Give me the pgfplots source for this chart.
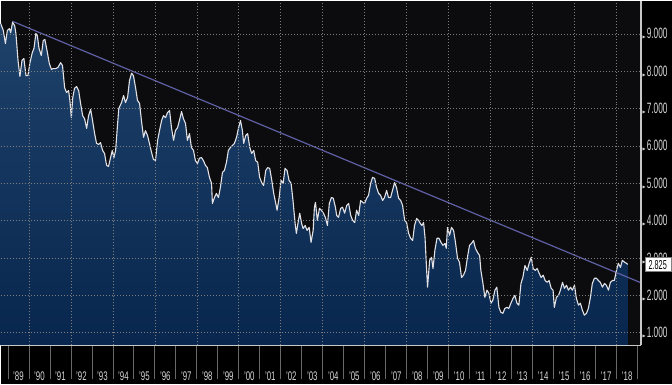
\documentclass[border=0pt]{standalone}
\usepackage{pgfplots}
\pgfplotsset{compat=1.18}
\usepackage{pgfplotstable}
\usepackage{graphicx}
\usepackage{fontspec}
\setmainfont{Liberation Sans}
\newfontfamily\symfont{DejaVu Sans}
\definecolor{bgplot}{RGB}{12,12,14}
\definecolor{gridc}{RGB}{125,125,125}
\definecolor{axc}{RGB}{200,200,200}
\definecolor{sepc}{RGB}{105,105,105}
\definecolor{trendc}{RGB}{95,95,165}
\definecolor{curvec}{RGB}{225,225,230}
\definecolor{filltop}{RGB}{30,66,106}
\definecolor{fillbot}{RGB}{8,38,78}
\definecolor{labc}{RGB}{215,215,215}
\newcommand{\ylab}[1]{{\symfont\fontsize{4}{4}\selectfont ▶}\hspace{1pt}\scalebox{0.55}[1]{\fontsize{15}{15}\selectfont #1}}
\newcommand{\xl}[1]{\scalebox{0.63}[1]{\fontsize{12.5}{12.5}\selectfont '#1}}

\pgfplotstableread{
year yld
1988.65 9.28
1988.78 9.09
1988.88 8.74
1988.97 9.09
1989.07 9.14
1989.13 9.03
1989.22 9.31
1989.32 9.22
1989.38 9.01
1989.48 8.29
1989.57 7.86
1989.67 8.29
1989.76 8.34
1989.86 7.88
1989.95 7.88
1990.05 8.23
1990.16 8.50
1990.24 8.61
1990.33 9.01
1990.40 8.95
1990.48 8.61
1990.59 8.42
1990.68 8.82
1990.76 8.85
1990.88 8.50
1990.97 8.21
1991.07 8.05
1991.16 8.07
1991.27 8.07
1991.38 8.10
1991.51 8.23
1991.60 8.15
1991.70 7.56
1991.79 7.43
1991.89 7.48
1991.95 7.22
1992.02 6.76
1992.09 7.30
1992.17 7.54
1992.27 7.59
1992.37 7.48
1992.46 7.14
1992.56 6.81
1992.65 6.73
1992.75 6.47
1992.84 6.81
1992.94 6.98
1993.03 6.68
1993.13 6.33
1993.22 6.07
1993.32 6.04
1993.41 6.09
1993.51 5.88
1993.60 5.80
1993.70 5.48
1993.79 5.45
1993.89 5.69
1993.97 5.88
1994.05 5.69
1994.13 5.88
1994.21 6.49
1994.28 7.00
1994.41 7.16
1994.51 7.35
1994.60 7.16
1994.70 7.30
1994.79 7.75
1994.89 7.95
1994.98 7.88
1995.08 7.56
1995.17 7.22
1995.27 7.14
1995.36 6.68
1995.46 6.23
1995.55 6.41
1995.65 6.28
1995.74 6.07
1995.84 5.83
1995.93 5.64
1996.03 5.61
1996.13 6.15
1996.22 6.41
1996.32 6.68
1996.41 6.81
1996.51 6.76
1996.60 6.89
1996.70 6.95
1996.79 6.49
1996.89 6.15
1996.98 6.41
1997.08 6.49
1997.17 6.68
1997.27 6.92
1997.36 6.73
1997.46 6.60
1997.55 6.15
1997.65 6.33
1997.74 5.96
1997.84 5.88
1997.93 5.61
1998.03 5.53
1998.12 5.67
1998.22 5.69
1998.31 5.61
1998.41 5.48
1998.50 5.42
1998.60 5.16
1998.70 5.00
1998.74 4.46
1998.84 4.62
1998.93 4.73
1999.03 4.62
1999.12 4.89
1999.22 5.29
1999.31 5.34
1999.41 5.56
1999.50 5.88
1999.60 5.96
1999.69 6.01
1999.79 6.07
1999.89 6.23
1999.98 6.47
2000.08 6.68
2000.17 6.41
2000.23 6.07
2000.33 6.28
2000.42 6.33
2000.52 5.96
2000.61 5.80
2000.71 5.88
2000.80 5.61
2000.90 5.56
2000.99 5.16
2001.09 5.02
2001.18 4.94
2001.28 5.34
2001.37 5.42
2001.47 5.40
2001.57 5.08
2001.66 4.73
2001.76 4.46
2001.82 4.28
2001.92 4.62
2002.01 5.08
2002.11 5.00
2002.20 5.40
2002.30 5.34
2002.39 5.08
2002.49 5.00
2002.58 4.54
2002.68 3.93
2002.74 3.66
2002.84 4.01
2002.90 4.20
2002.99 3.93
2003.06 3.79
2003.16 3.87
2003.25 3.74
2003.35 3.82
2003.44 3.42
2003.54 3.74
2003.60 4.36
2003.65 4.49
2003.74 4.01
2003.84 4.33
2003.93 4.28
2004.03 4.20
2004.12 4.09
2004.22 3.87
2004.31 4.46
2004.41 4.62
2004.50 4.60
2004.60 4.36
2004.66 4.14
2004.75 4.09
2004.85 4.33
2004.94 4.36
2005.04 4.20
2005.14 4.41
2005.23 4.46
2005.33 4.14
2005.42 4.01
2005.52 3.95
2005.61 4.28
2005.71 4.14
2005.80 4.54
2005.90 4.49
2005.99 4.46
2006.09 4.60
2006.18 4.68
2006.28 5.00
2006.37 5.16
2006.47 5.13
2006.56 4.89
2006.66 4.73
2006.75 4.68
2006.85 4.54
2006.94 4.62
2007.04 4.81
2007.13 4.62
2007.23 4.62
2007.32 4.81
2007.42 5.02
2007.51 4.89
2007.61 4.60
2007.71 4.54
2007.80 4.41
2007.90 4.01
2007.99 3.95
2008.09 3.66
2008.18 3.53
2008.28 3.47
2008.37 3.87
2008.47 4.06
2008.56 4.01
2008.64 3.93
2008.72 3.87
2008.80 3.95
2008.87 3.55
2008.93 2.86
2008.99 2.22
2009.09 2.94
2009.18 3.02
2009.25 2.72
2009.34 3.21
2009.44 3.53
2009.53 3.53
2009.63 3.42
2009.72 3.34
2009.82 3.39
2009.88 3.26
2009.94 3.82
2010.04 3.61
2010.13 3.82
2010.23 3.74
2010.32 3.42
2010.42 2.99
2010.51 2.89
2010.61 2.48
2010.70 2.54
2010.80 2.67
2010.89 3.02
2010.99 3.34
2011.08 3.39
2011.18 3.47
2011.27 3.26
2011.37 3.15
2011.47 3.07
2011.53 2.67
2011.63 2.32
2011.72 1.95
2011.82 2.14
2011.91 2.06
2012.01 1.79
2012.10 1.87
2012.20 2.14
2012.29 2.22
2012.39 1.68
2012.48 1.55
2012.58 1.52
2012.67 1.65
2012.77 1.68
2012.86 1.65
2012.96 1.79
2013.06 1.92
2013.15 2.00
2013.25 1.79
2013.34 1.74
2013.44 2.32
2013.53 2.48
2013.63 2.80
2013.74 2.67
2013.83 2.86
2013.93 3.02
2014.02 2.72
2014.12 2.67
2014.21 2.72
2014.31 2.59
2014.40 2.48
2014.50 2.54
2014.59 2.40
2014.69 2.35
2014.78 2.40
2014.88 2.19
2014.97 2.14
2015.03 1.68
2015.13 1.95
2015.23 2.00
2015.32 2.14
2015.42 2.35
2015.51 2.19
2015.61 2.27
2015.70 2.14
2015.80 2.22
2015.89 2.14
2015.99 2.27
2016.08 1.92
2016.18 1.74
2016.27 1.79
2016.37 1.60
2016.46 1.47
2016.56 1.52
2016.65 1.65
2016.75 1.95
2016.84 2.32
2016.94 2.46
2017.03 2.46
2017.13 2.40
2017.22 2.35
2017.32 2.22
2017.42 2.32
2017.51 2.27
2017.61 2.14
2017.70 2.35
2017.80 2.40
2017.89 2.40
2017.99 2.67
2018.08 2.86
2018.18 2.75
2018.27 2.94
2018.37 2.89
2018.46 2.86
2018.53 2.83
}\yields

\begin{document}
\begin{tikzpicture}
\fill[black] (0pt,0pt) rectangle (672pt,-384pt);
\begin{axis}[
  at={(0pt,0pt)}, anchor=north west,
  scale only axis, width=641pt, height=345pt,
  xmin=1988.65, xmax=2019.16, ymin=0.665, ymax=9.89,
  axis background/.style={fill=bgplot},
  axis x line*=bottom, axis y line*=right,
  axis line style={draw=axc, line width=1.2pt},
  xtick={1989.5,1990.5,...,2018.5},
  xticklabels={\xl{89},\xl{90},\xl{91},\xl{92},\xl{93},\xl{94},\xl{95},\xl{96},\xl{97},\xl{98},\xl{99},\xl{00},\xl{01},\xl{02},\xl{03},\xl{04},\xl{05},\xl{06},\xl{07},\xl{08},\xl{09},\xl{10},\xl{11},\xl{12},\xl{13},\xl{14},\xl{15},\xl{16},\xl{17},\xl{18}},
  major tick length=0pt,
  minor xtick={1989,1990,...,2019},
  minor tick length=34pt,
  tick align=outside,
  minor tick style={draw=sepc, line width=0.8pt},
  extra x ticks={1990,1992,...,2018},
  extra x tick labels={},
  extra x tick style={xmajorgrids=true, major grid style={draw=gridc, line width=0.7pt, dash pattern=on 1pt off 2pt}},
  ytick={1,2,...,9},
  yticklabels={\ylab{1.000},\ylab{2.000},\ylab{3.000},\ylab{4.000},\ylab{5.000},\ylab{6.000},\ylab{7.000},\ylab{8.000},\ylab{9.000}},
  ymajorgrids,
  major grid style={draw=gridc, line width=0.7pt, dash pattern=on 1pt off 2pt},
  xticklabel style={text=labc, inner sep=0pt, anchor=north, yshift=-26pt},
  yticklabel style={text=labc, inner sep=0pt, anchor=west, xshift=1.5pt},
  axis on top,
]
\addplot[draw=none, top color=filltop, bottom color=fillbot] table[x=year,y=yld]{\yields} \closedcycle;
\addplot[trendc, line width=1.2pt] coordinates {(1989.21,9.337) (2019.16,2.337)};
\addplot[curvec, line width=1.1pt, line join=round] table[x=year,y=yld]{\yields};
\coordinate (lastv) at (axis cs:2019.16,2.825);
\end{axis}
\node[anchor=west, fill=white, draw=gray, inner sep=0pt, minimum width=26pt, minimum height=14pt, text=black, xshift=3.5pt] at (lastv) {\scalebox{0.56}[1]{\fontsize{13}{13}\selectfont 2.825}};
\end{tikzpicture}
\end{document}
